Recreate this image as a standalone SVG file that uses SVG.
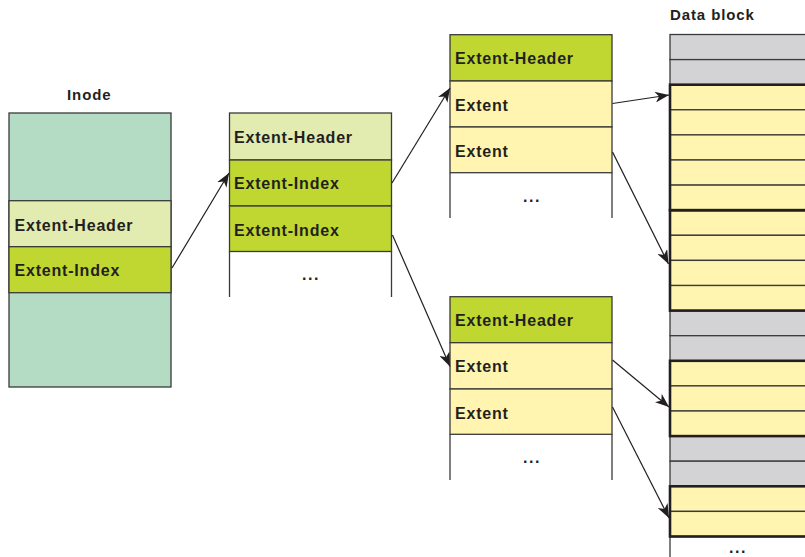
<svg xmlns="http://www.w3.org/2000/svg" width="805" height="557" viewBox="0 0 805 557">
<defs>
<style>
.t{font-family:"Liberation Sans",Arial,sans-serif;font-weight:bold;font-size:16px;letter-spacing:0.8px;fill:#231f20}
.lbl{font-family:"Liberation Sans",Arial,sans-serif;font-weight:bold;font-size:15px;letter-spacing:0.9px;fill:#231f20}
.dots{font-family:"Liberation Sans",Arial,sans-serif;font-weight:bold;font-size:16px;letter-spacing:1.5px;fill:#231f20}
.c{stroke:#3a3a3a;stroke-width:1.3}
.teal{fill:#b4dcc4}
.lg{fill:#e2ebb0}
.g{fill:#bfd730}
.y{fill:#fff5b0}
.gr{fill:#d3d3d5}
.side{stroke:#3a3a3a;stroke-width:1.3;fill:none}
.thick{fill:none;stroke:#231f20;stroke-width:2.6}
.arr{stroke:#231f20;stroke-width:1.2;fill:none;marker-end:url(#ah)}
</style>
<marker id="ah" markerUnits="userSpaceOnUse" markerWidth="15" markerHeight="11" refX="14" refY="5.5" orient="auto">
<path d="M0,0 L14,5.5 L0,11 L4,5.5 Z" fill="#231f20"/>
</marker>
</defs>
<rect width="805" height="557" fill="#ffffff"/>

<g id="inode">
<text class="lbl" x="67" y="100">Inode</text>
<rect class="c teal" x="9" y="113" width="162" height="274"/>
<rect class="c lg" x="9" y="200.7" width="162" height="46"/>
<text class="t" x="14.5" y="230.5">Extent-Header</text>
<rect class="c g" x="9" y="246.7" width="162" height="46"/>
<text class="t" x="14.5" y="276">Extent-Index</text>
</g>

<g id="index-node">
<rect class="c lg" x="229.5" y="113" width="162" height="47"/>
<text class="t" x="234" y="143.3">Extent-Header</text>
<rect class="c g" x="229.5" y="160" width="162" height="46"/>
<text class="t" x="234" y="189.3">Extent-Index</text>
<rect class="c g" x="229.5" y="206" width="162" height="45.5"/>
<text class="t" x="234" y="236">Extent-Index</text>
<path class="side" d="M229.5,251.5 V297 M391.5,251.5 V297"/>
<text class="dots" x="302" y="280">...</text>
</g>

<g id="leaf-node-1">
<rect class="c g" x="450" y="34.7" width="162" height="46.3"/>
<text class="t" x="455" y="64.3">Extent-Header</text>
<rect class="c y" x="450" y="81" width="162" height="46"/>
<text class="t" x="455" y="111">Extent</text>
<rect class="c y" x="450" y="127" width="162" height="45.7"/>
<text class="t" x="455" y="156.7">Extent</text>
<path class="side" d="M450,172.7 V218 M612,172.7 V218"/>
<text class="dots" x="523" y="202">...</text>
</g>

<g id="leaf-node-2">
<rect class="c g" x="450" y="296.7" width="162" height="46"/>
<text class="t" x="455" y="326">Extent-Header</text>
<rect class="c y" x="450" y="342.7" width="162" height="46.3"/>
<text class="t" x="455" y="371.7">Extent</text>
<rect class="c y" x="450" y="389" width="162" height="45.3"/>
<text class="t" x="455" y="418.7">Extent</text>
<path class="side" d="M450,434.3 V480 M612,434.3 V480"/>
<text class="dots" x="523" y="463">...</text>
</g>

<g id="data-block">
<text class="lbl" x="670" y="20">Data block</text>
<rect class="c gr" x="670" y="34.5" width="140" height="25.1"/>
<rect class="c gr" x="670" y="59.6" width="140" height="25.1"/>
<rect class="c y" x="670" y="84.7" width="140" height="25.1"/>
<rect class="c y" x="670" y="109.8" width="140" height="25.1"/>
<rect class="c y" x="670" y="134.9" width="140" height="25.1"/>
<rect class="c y" x="670" y="160" width="140" height="25.1"/>
<rect class="c y" x="670" y="185.1" width="140" height="25.1"/>
<rect class="c y" x="670" y="210.2" width="140" height="25.1"/>
<rect class="c y" x="670" y="235.3" width="140" height="25.1"/>
<rect class="c y" x="670" y="260.4" width="140" height="25.1"/>
<rect class="c y" x="670" y="285.5" width="140" height="25.1"/>
<rect class="c gr" x="670" y="310.6" width="140" height="25.1"/>
<rect class="c gr" x="670" y="335.7" width="140" height="25.1"/>
<rect class="c y" x="670" y="360.8" width="140" height="25.1"/>
<rect class="c y" x="670" y="385.9" width="140" height="25.1"/>
<rect class="c y" x="670" y="411" width="140" height="25.1"/>
<rect class="c gr" x="670" y="436.1" width="140" height="25.1"/>
<rect class="c gr" x="670" y="461.2" width="140" height="25.1"/>
<rect class="c y" x="670" y="486.3" width="140" height="25.1"/>
<rect class="c y" x="670" y="511.4" width="140" height="25.1"/>
<path class="side" d="M670,536.5 V557"/>
<rect class="thick" x="670" y="84.7" width="145" height="125.5"/>
<rect class="thick" x="670" y="210.2" width="145" height="100.4"/>
<rect class="thick" x="670" y="360.8" width="145" height="75.3"/>
<rect class="thick" x="670" y="486.3" width="145" height="50.2"/>
<text class="dots" x="729" y="553">...</text>
</g>

<g id="connectors">
<line class="arr" x1="172" y1="268" x2="229" y2="173"/>
<line class="arr" x1="392" y1="183" x2="450" y2="88"/>
<line class="arr" x1="392.5" y1="235" x2="450" y2="366.5"/>
<line class="arr" x1="612.5" y1="103.5" x2="669" y2="95"/>
<line class="arr" x1="612.5" y1="152" x2="668.5" y2="264"/>
<line class="arr" x1="612.5" y1="360" x2="669" y2="407"/>
<line class="arr" x1="612.5" y1="407" x2="669" y2="518"/>
</g>
</svg>
